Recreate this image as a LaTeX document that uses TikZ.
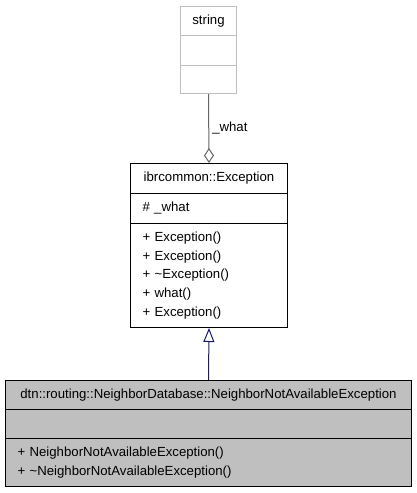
\documentclass[tikz,border=0pt]{standalone}
\usepackage{fontspec}
\setmainfont{Liberation Sans}
\usetikzlibrary{arrows.meta}
\definecolor{inhblue}{HTML}{191970}
\definecolor{aggray}{HTML}{646464}
\definecolor{ghostgray}{HTML}{BFBFBF}
\begin{document}
\begin{tikzpicture}[x=1pt, y=-1pt, line width=1pt, font=\fontsize{13.2}{18.75}\selectfont,
	head/.style = {draw, anchor=north west, inner sep=0pt},
	memb/.style = {draw, anchor=north west, inner xsep=12pt, inner ysep=0pt, align=left}]

	\useasboundingbox (0,0) rectangle (416,493);

	% string
	\node[head, draw=ghostgray, minimum width=56pt, minimum height=29pt] (strT) at (180,6) {string};
	\node[head, draw=ghostgray, minimum width=56pt, minimum height=30pt] (strA) at (180,35) {};
	\node[head, draw=ghostgray, minimum width=56pt, minimum height=28pt] (strM) at (180,65) {};

	% ibrcommon::Exception
	\node[head, minimum width=157pt, minimum height=30pt] (excT) at (130,163) {ibrcommon::Exception};
	\node[memb, text width=133pt, minimum height=30pt] (excA) at (130,193) {\# \_what};
	\node[memb, text width=133pt, minimum height=104pt] (excM) at (130,223)
		{+ Exception()\\+ Exception()\\+ \textasciitilde Exception()\\+ what()\\+ Exception()};

	% NeighborNotAvailableException
	\node[head, fill=ghostgray, minimum width=406pt, minimum height=29pt] (nnaT) at (5,380)
		{dtn::routing::NeighborDatabase::NeighborNotAvailableException};
	\node[memb, fill=ghostgray, text width=382pt, minimum height=29pt] (nnaA) at (5,409) {};
	\node[memb, fill=ghostgray, text width=382pt, minimum height=48pt] (nnaM) at (5,438)
		{+ NeighborNotAvailableException()\\+ \textasciitilde NeighborNotAvailableException()};

	\draw[aggray, -{Diamond[open, length=15pt, width=10pt]}] (strM.south) -- (excT.north)
		node[midway, right, text=black, inner sep=3pt] {\_what};
	\draw[inhblue, -{Triangle[open, length=14pt, width=11pt, fill=white]}] (nnaT.north) -- (excM.south);
\end{tikzpicture}
\end{document}
